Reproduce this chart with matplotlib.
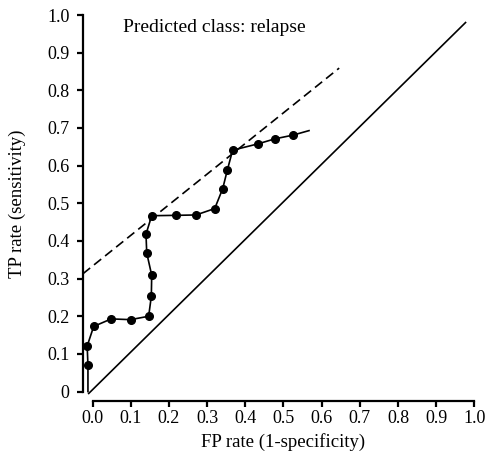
import matplotlib
matplotlib.use("Agg")
import matplotlib.pyplot as plt

plt.rcParams['font.family'] = ['Liberation Serif', 'DejaVu Serif']

# ROC curve points (FP rate, TP rate); first and last are line ends without markers
fpr = [-0.012, -0.012, -0.014, 0.003, 0.049, 0.0995, 0.147, 0.154, 0.155, 0.142, 0.140,
       0.155, 0.218, 0.271, 0.320, 0.341, 0.353, 0.367, 0.434, 0.477, 0.525, 0.567]
tpr = [0.0, 0.070, 0.121, 0.173, 0.193, 0.191, 0.200, 0.253, 0.309, 0.368, 0.418,
       0.467, 0.468, 0.469, 0.486, 0.539, 0.588, 0.641, 0.658, 0.671, 0.681, 0.693]

# Chance diagonal and tangent (iso-performance) dashed line
diag_x = [-0.010, 0.977]
diag_y = [-0.005, 0.980]
dash_x = [-0.025, 0.646]
dash_y = [0.313, 0.859]

ticks = [0.0, 0.1, 0.2, 0.3, 0.4, 0.5, 0.6, 0.7, 0.8, 0.9, 1.0]
xtick_labels = ['0.0', '0.1', '0.2', '0.3', '0.4', '0.5', '0.6', '0.7', '0.8', '0.9', '1.0']
ytick_labels = ['0', '0.1', '0.2', '0.3', '0.4', '0.5', '0.6', '0.7', '0.8', '0.9', '1.0']

fig = plt.figure(figsize=(4.89, 4.66), dpi=100)
ax = fig.add_axes([0.1697, 0.1395, 0.8003, 0.8283])

ax.plot(diag_x, diag_y, color='black', lw=1.2)
ax.plot(dash_x, dash_y, color='black', lw=1.2, dashes=(5.5, 3))
ax.plot(fpr, tpr, color='black', lw=1.2, marker='o', markersize=5.5,
        markevery=list(range(1, len(fpr) - 1)))

ax.set_xlim(-0.025, 1.0)
ax.set_ylim(-0.025, 1.0)
ax.spines['top'].set_visible(False)
ax.spines['right'].set_visible(False)
ax.spines['left'].set_bounds(0, 1)
ax.spines['bottom'].set_bounds(0, 1)
ax.spines['left'].set_linewidth(1.6)
ax.spines['bottom'].set_linewidth(1.6)

ax.set_xticks(ticks)
ax.set_xticklabels(xtick_labels)
ax.set_yticks(ticks)
ax.set_yticklabels(ytick_labels)
ax.tick_params(direction='out', length=4.3, width=1.6, labelsize=13)
ax.tick_params(axis='y', pad=5.5)
ax.tick_params(axis='x', pad=2.5)

ax.set_xlabel('FP rate (1-specificity)', fontsize=13.5)
ax.set_ylabel('TP rate (sensitivity)', fontsize=13.5)
ax.xaxis.set_label_coords(0.512, -0.082)
ax.yaxis.set_label_coords(-0.145, 0.512)

ax.text(0.08, 0.968, 'Predicted class: relapse', fontsize=14, va='center', ha='left')

fig.savefig('out.png', dpi=100)
